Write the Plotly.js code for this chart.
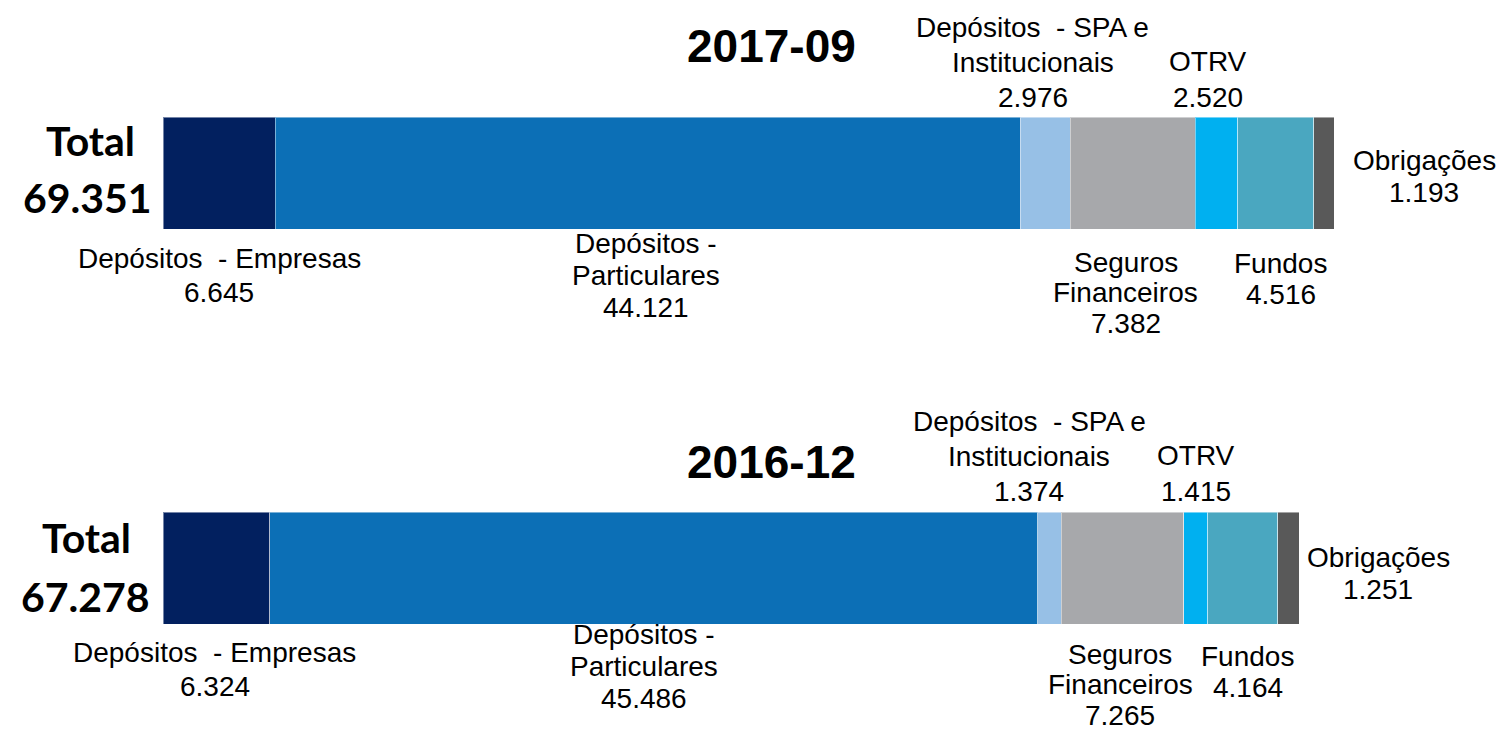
<!DOCTYPE html>
<html>
<head>
<meta charset="utf-8">
<script src="https://cdn.plot.ly/plotly-3.0.1.min.js"></script>
<style>
html, body { margin: 0; padding: 0; background: #ffffff; }
#chart { width: 1496px; height: 731px; }
</style>
</head>
<body>
<div id="chart"></div>
<script>
// ---------------- DATA ----------------
const PERIODS = ['2016-12', '2017-09'];            // y index 0 (bottom), 1 (top)
const SERIES_NAMES = ['Depósitos - Empresas', 'Depósitos - Particulares', 'Depósitos - SPA e Institucionais',
                      'Seguros Financeiros', 'OTRV', 'Fundos', 'Obrigações'];
const LABEL_LINES = [
  ['Depósitos\u00a0 - Empresas'],
  ['Depósitos -', 'Particulares'],
  ['Depósitos\u00a0 - SPA e', 'Institucionais'],
  ['Seguros', 'Financeiros'],
  ['OTRV'],
  ['Fundos'],
  ['Obrigações']
];
const VALUES_2016_12 = [6324, 45486, 1374, 7265, 1415, 4164, 1251];
const VALUES_2017_09 = [6645, 44121, 2976, 7382, 2520, 4516, 1193];
const TOTALS = [67278, 69351];                      // as printed in the chart
const TOTAL_WORD = 'Total';

// ---------------- STYLE ----------------
const COLORS = ['#02205F', '#0C6FB6', '#97C0E6', '#A7A8AB', '#00B0F0', '#4AA7C0', '#595959'];
const W = 1496, H = 731;
const X_START_PX = 163, X_END_TOP_PX = 1334;
const BAR_CENTER_PX = [568, 173];
const BAR_THICK_PX = 112;
const HALF = BAR_THICK_PX / 2;

const LABEL_LAYOUT = [
  {pos: 'below', first: [28.5, 29.5], step: 33.5, dx: [-1.5, 0]},
  {pos: 'below', first: [10, 14],     step: 32,   dx: [-9.5, -2]},
  {pos: 'above', last: [21, 20],      step: 35,   dx: [-20, -12.5]},
  {pos: 'below', first: [30, 33],     step: 30.5, dx: [-2, -7]},
  {pos: 'above', last: [21, 20],      step: 36,   dx: [0, -8]},
  {pos: 'below', first: [32, 34],     step: 31.5, dx: [5, 5]},
  {pos: 'right', first: [-11, -13],   step: 32,   dx: [79, 90]}
];
const LABEL_FONT = {family: 'Liberation Sans, Arial, sans-serif', size: 28, color: '#000000'};
const TITLE_FONT = {family: 'Liberation Sans, Arial, sans-serif', size: 46, color: '#000000'};
const TOTAL_FONT = {family: 'Lato, Carlito, Calibri, sans-serif', size: 41, color: '#000000'};

function fmt(v) { return String(v).replace(/\B(?=(\d{3})+(?!\d))/g, '.'); }

const VALUES_BY_PERIOD = [VALUES_2016_12, VALUES_2017_09];

// axis geometry
const pxPerUnit = (X_END_TOP_PX - X_START_PX) / TOTALS[1];
const xr0 = -X_START_PX / pxPerUnit;
const xr1 = xr0 + W / pxPerUnit;
const pxPerY = BAR_CENTER_PX[0] - BAR_CENTER_PX[1];
const yr1 = 1 + BAR_CENTER_PX[1] / pxPerY;
const yr0 = yr1 - H / pxPerY;

// traces
const traces = SERIES_NAMES.map((name, i) => ({
  type: 'bar',
  orientation: 'h',
  name: name,
  y: [0, 1],
  x: VALUES_BY_PERIOD.map(a => a[i]),
  width: BAR_THICK_PX / pxPerY,
  marker: {color: COLORS[i], line: {color: 'rgba(255,255,255,0.45)', width: 1}},
  hoverinfo: 'skip'
}));

// annotations
const annotations = [];
VALUES_BY_PERIOD.forEach((vals, p) => {
  let cum = 0;
  const barEnd = vals.reduce((s, v) => s + v, 0);
  vals.forEach((v, i) => {
    const lay = LABEL_LAYOUT[i];
    const lines = LABEL_LINES[i].concat([fmt(v)]);
    const n = lines.length;
    const xData = lay.pos === 'right' ? barEnd : cum + v / 2;
    lines.forEach((txt, k) => {
      let off;
      if (lay.pos === 'below') off = HALF + lay.first[p] + k * lay.step;
      else if (lay.pos === 'above') off = -(HALF + lay.last[p] + (n - 1 - k) * lay.step);
      else off = lay.first[p] + k * lay.step;
      annotations.push({
        xref: 'x', yref: 'y', x: xData, y: p,
        text: txt, showarrow: false,
        xanchor: 'center', yanchor: 'middle',
        xshift: lay.dx[p], yshift: -off,
        borderpad: 0,
        font: LABEL_FONT
      });
    });
    cum += v;
  });
});

// period titles
const TITLE_POS = [{x: 771.5, y: 461.5}, {x: 772, y: 45.5}];
PERIODS.forEach((per, p) => {
  annotations.push({
    xref: 'paper', yref: 'paper',
    x: TITLE_POS[p].x / W, y: 1 - TITLE_POS[p].y / H,
    text: '<b>' + per + '</b>', showarrow: false,
    xanchor: 'center', yanchor: 'middle', font: TITLE_FONT
  });
});

// totals
const TOTAL_POS = [
  {word: {x: 86, y: 537.5}, num: {x: 85, y: 596.5}},
  {word: {x: 90, y: 140},   num: {x: 87.5, y: 197}}
];
TOTALS.forEach((t, p) => {
  const tp = TOTAL_POS[p];
  annotations.push({
    xref: 'paper', yref: 'paper', x: tp.word.x / W, y: 1 - tp.word.y / H,
    text: '<b>' + TOTAL_WORD + '</b>', showarrow: false,
    xanchor: 'center', yanchor: 'middle', font: TOTAL_FONT
  });
  annotations.push({
    xref: 'paper', yref: 'paper', x: tp.num.x / W, y: 1 - tp.num.y / H,
    text: '<b>' + fmt(t) + '</b>', showarrow: false,
    xanchor: 'center', yanchor: 'middle', font: TOTAL_FONT
  });
});

const layout = {
  width: W, height: H,
  margin: {l: 0, r: 0, t: 0, b: 0, pad: 0},
  paper_bgcolor: '#ffffff', plot_bgcolor: '#ffffff',
  barmode: 'stack',
  showlegend: false,
  hovermode: false,
  xaxis: {range: [xr0, xr1], visible: false, fixedrange: true},
  yaxis: {range: [yr0, yr1], visible: false, fixedrange: true},
  annotations: annotations
};

Plotly.newPlot('chart', traces, layout, {displayModeBar: false, staticPlot: true});
</script>
</body>
</html>
